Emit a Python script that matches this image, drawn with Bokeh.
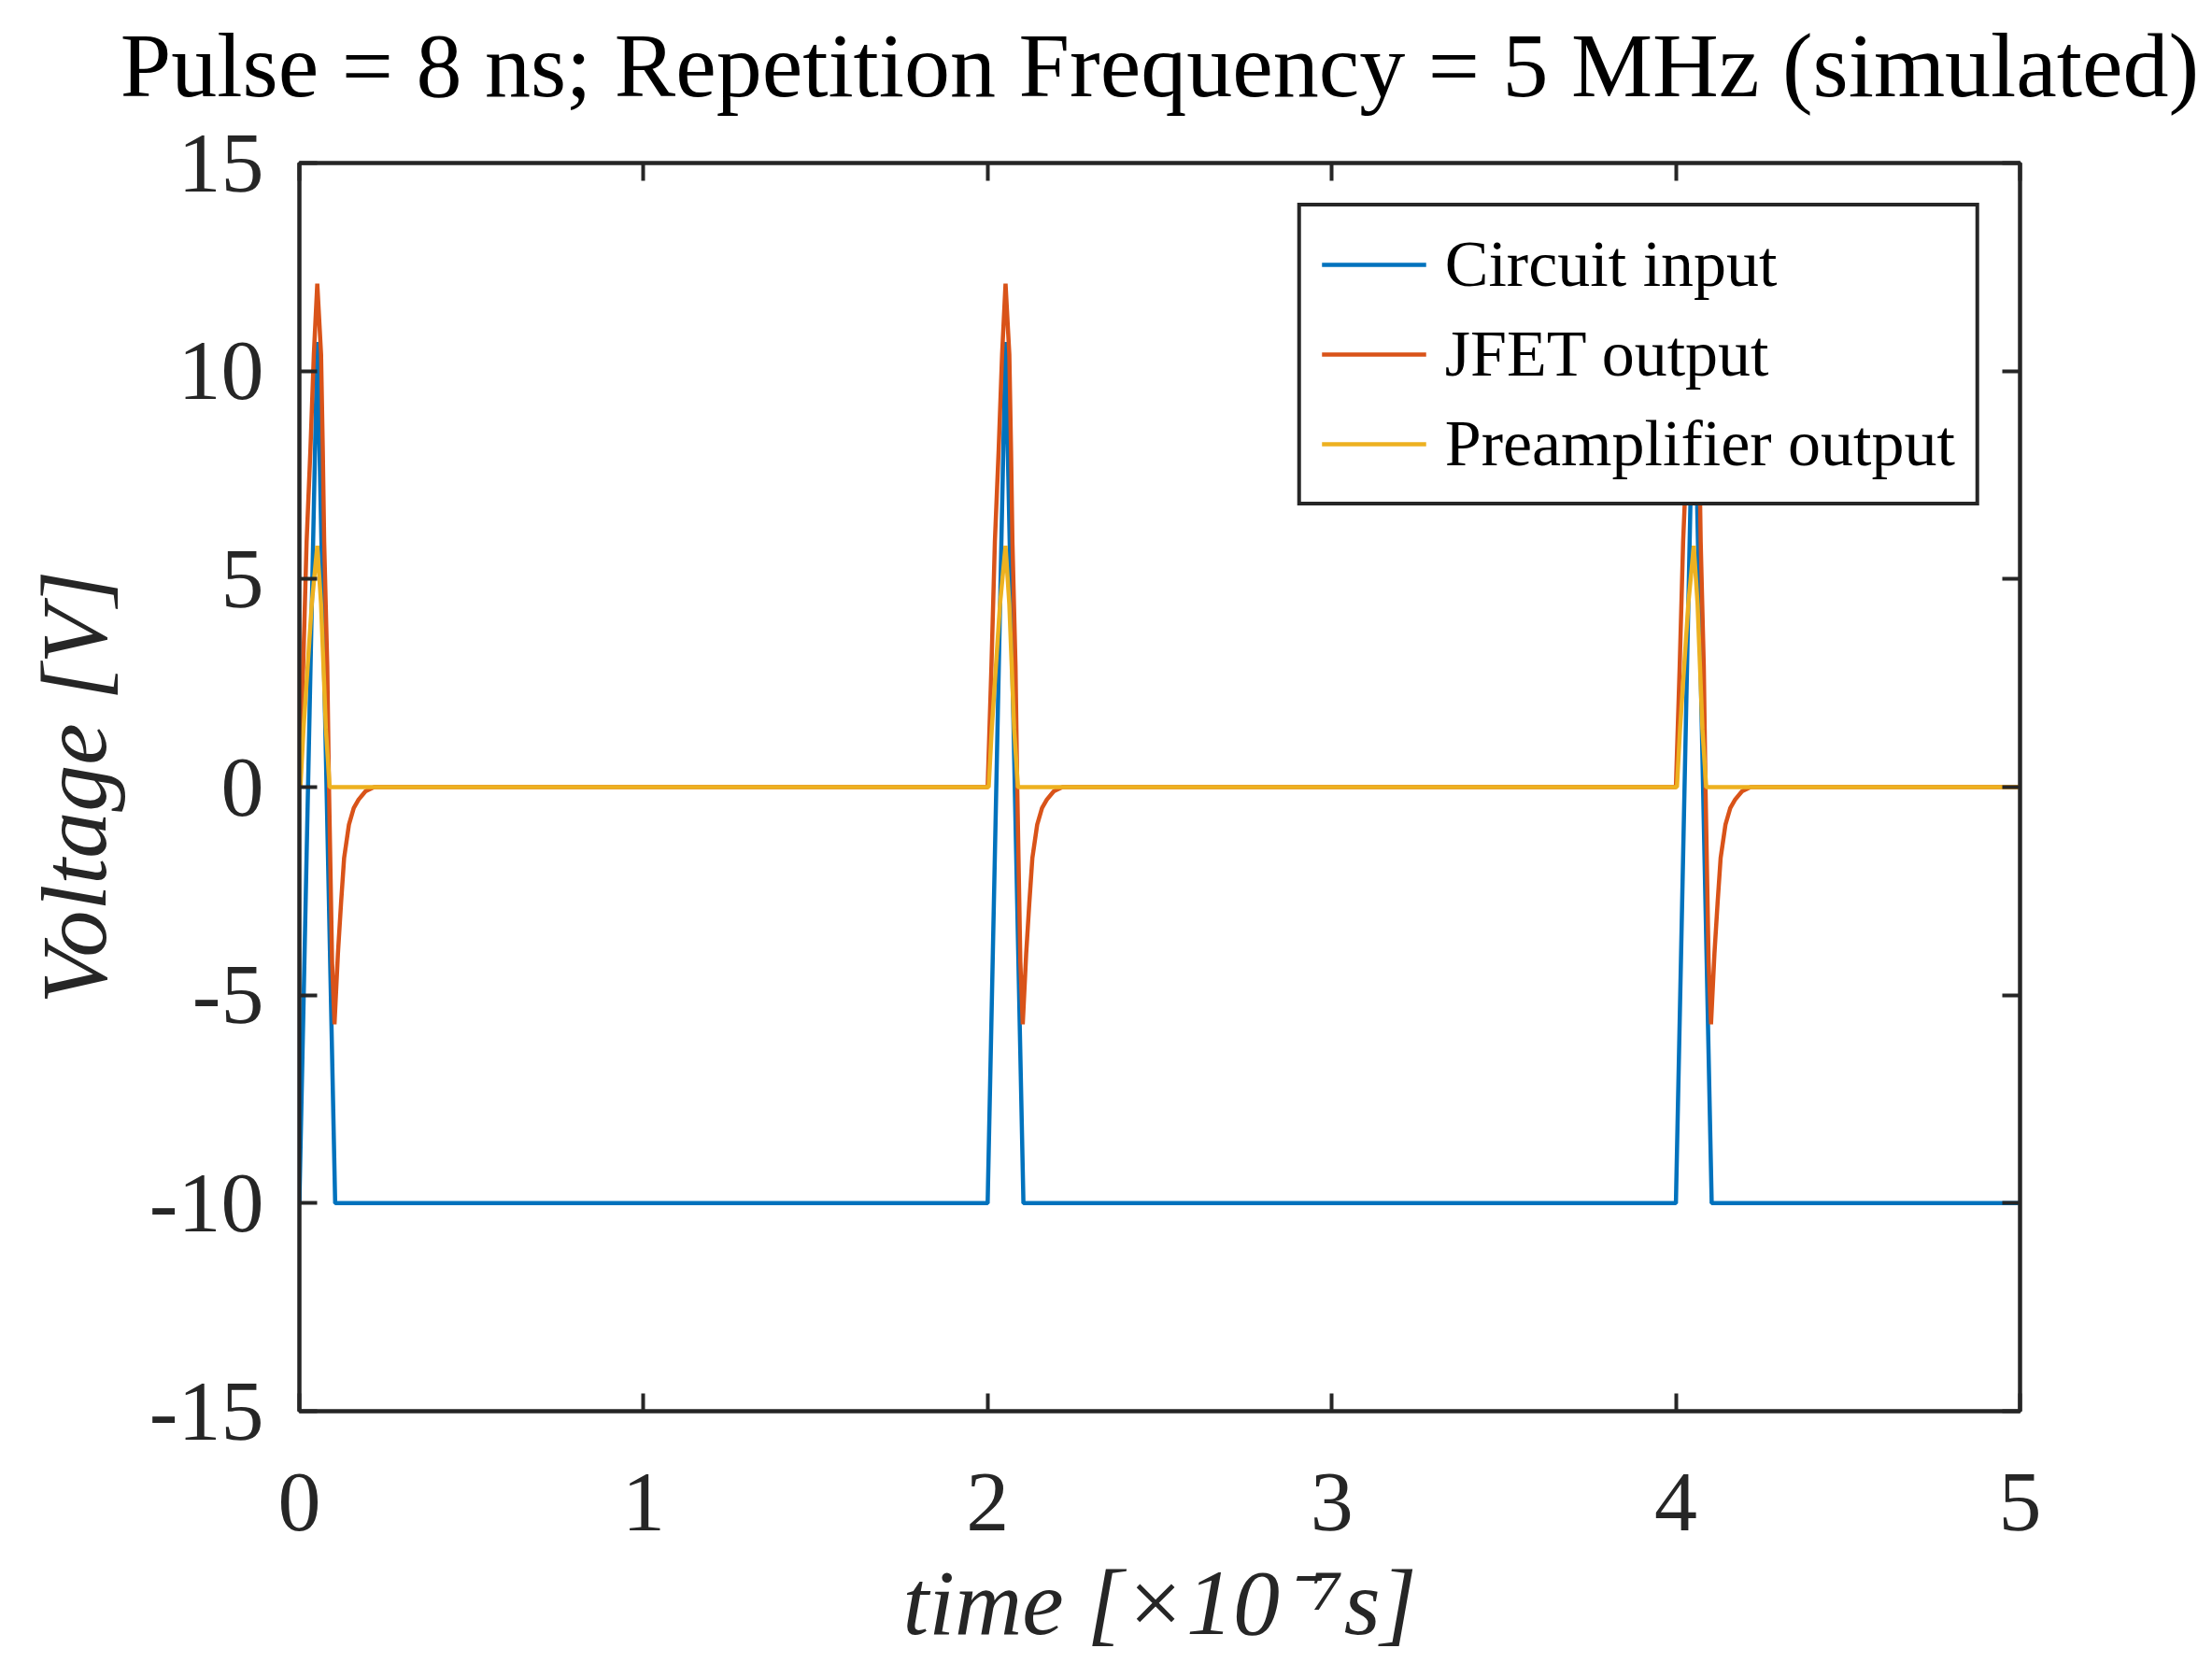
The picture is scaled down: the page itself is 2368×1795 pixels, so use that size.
from bokeh.plotting import figure
from bokeh.models import LinearAxis, FixedTicker, Range1d
from bokeh.embed import file_html
from bokeh.resources import INLINE

# ---- data (time in units of 1e-7 s, voltage in V) ----
t_input = [0.000, 0.052, 0.104,
           2.000, 2.052, 2.104,
           4.000, 4.052, 4.104,
           5.000]
v_input = [-10.0, 10.7, -10.0,
           -10.0, 10.7, -10.0,
           -10.0, 10.7, -10.0,
           -10.0]

t_jfet = [0.000, 0.011, 0.021, 0.032, 0.042, 0.052, 0.063, 0.068, 0.072, 0.081,
          0.086, 0.095, 0.102, 0.112, 0.121, 0.130, 0.144, 0.158, 0.172, 0.192, 0.217,
          2.000, 2.011, 2.021, 2.032, 2.042, 2.052, 2.063, 2.068, 2.072, 2.081,
          2.086, 2.095, 2.102, 2.112, 2.121, 2.130, 2.144, 2.158, 2.172, 2.192, 2.217,
          4.000, 4.011, 4.021, 4.032, 4.042, 4.052, 4.063, 4.068, 4.072, 4.081,
          4.086, 4.095, 4.102, 4.112, 4.121, 4.130, 4.144, 4.158, 4.172, 4.192, 4.217,
          5.000]
v_jfet = [0.0, 2.9, 5.9, 8.1, 10.4, 12.1, 10.4, 8.1, 5.9, 2.9,
          0.0, -4.2, -5.7, -4.0, -2.8, -1.7, -0.9, -0.5, -0.3, -0.1, 0.0,
          0.0, 2.9, 5.9, 8.1, 10.4, 12.1, 10.4, 8.1, 5.9, 2.9,
          0.0, -4.2, -5.7, -4.0, -2.8, -1.7, -0.9, -0.5, -0.3, -0.1, 0.0,
          0.0, 2.9, 5.9, 8.1, 10.4, 12.1, 10.4, 8.1, 5.9, 2.9,
          0.0, -4.2, -5.7, -4.0, -2.8, -1.7, -0.9, -0.5, -0.3, -0.1, 0.0,
          0.0]

t_preamp = [0.000, 0.003, 0.012, 0.024, 0.036, 0.052, 0.063, 0.070, 0.077, 0.088,
            2.000, 2.003, 2.012, 2.024, 2.036, 2.052, 2.063, 2.070, 2.077, 2.088,
            4.000, 4.003, 4.012, 4.024, 4.036, 4.052, 4.063, 4.070, 4.077, 4.088,
            5.000]
v_preamp = [0.0, 0.0, 1.4, 2.9, 4.4, 5.8, 4.4, 2.9, 1.4, 0.0,
            0.0, 0.0, 1.4, 2.9, 4.4, 5.8, 4.4, 2.9, 1.4, 0.0,
            0.0, 0.0, 1.4, 2.9, 4.4, 5.8, 4.4, 2.9, 1.4, 0.0,
            0.0]

series_names = ["Circuit input", "JFET output", "Preamplifier output"]
series_colors = ["#0072BD", "#D95319", "#EDB120"]

x_ticks = [0, 1, 2, 3, 4, 5]
x_tick_labels = ["0", "1", "2", "3", "4", "5"]
y_ticks = [-15, -10, -5, 0, 5, 10, 15]
y_tick_labels = ["-15", "-10", "-5", "0", "5", "10", "15"]

title_text = "Pulse = 8 ns; Repetition Frequency = 5 MHz (simulated)"
x_label = "time [\u00d710\u207b\u2077s]"
y_label = "Voltage [V]"

FONT = "Liberation Serif"
INK = "#262626"

SHIFT = 40  # figure is pulled up by this many px so the title can sit high

p = figure(frame_width=1842, frame_height=1336,
           min_border_left=320, min_border_right=198,
           min_border_top=174 + SHIFT, min_border_bottom=269,
           x_range=Range1d(0, 5), y_range=Range1d(-15, 15),
           output_backend="svg", toolbar_location=None,
           background_fill_color="white", border_fill_color="white",
           margin=(-SHIFT, 0, 0, 0))

p.xgrid.visible = False
p.ygrid.visible = False
p.outline_line_color = INK
p.outline_line_width = 4
p.outline_line_alpha = 1.0

p.title.text = title_text
p.title.align = "center"
p.title.vertical_align = "top"
p.title.text_font = FONT
p.title.text_font_size = "98px"
p.title.text_font_style = "normal"
p.title.text_color = "black"
p.title.standoff = 97

for xs, ys, name, col in zip([t_input, t_jfet, t_preamp],
                             [v_input, v_jfet, v_preamp],
                             series_names, series_colors):
    p.line(xs, ys, line_color=col, line_width=4.5, legend_label=name)

def style_axis(ax, ticks, labels, show_labels):
    ax.ticker = FixedTicker(ticks=ticks)
    ax.major_label_overrides = {t: (l if show_labels else "") for t, l in zip(ticks, labels)}
    ax.axis_line_color = INK
    ax.axis_line_width = 4
    ax.major_tick_line_color = INK
    ax.major_tick_line_width = 4
    ax.major_tick_in = 19
    ax.major_tick_out = 0
    ax.minor_tick_line_color = None
    ax.major_label_text_font = FONT
    ax.major_label_text_font_size = "92px" if show_labels else "1px"
    ax.major_label_text_color = INK

xa = p.xaxis[0]
ya = p.yaxis[0]
style_axis(xa, x_ticks, x_tick_labels, True)
style_axis(ya, y_ticks, y_tick_labels, True)
xa.major_label_standoff = 67
ya.major_label_standoff = 38

xa.axis_label = x_label
xa.axis_label_text_font = FONT
xa.axis_label_text_font_size = "100px"
xa.axis_label_text_font_style = "italic"
xa.axis_label_text_color = INK
xa.axis_label_standoff = 19

ya.axis_label = y_label
ya.axis_label_text_font = FONT
ya.axis_label_text_font_size = "100px"
ya.axis_label_text_font_style = "italic"
ya.axis_label_text_color = INK
ya.axis_label_standoff = 22

top_ax = LinearAxis()
style_axis(top_ax, x_ticks, x_tick_labels, False)
top_ax.major_label_standoff = 0
p.add_layout(top_ax, "above")

right_ax = LinearAxis()
style_axis(right_ax, y_ticks, y_tick_labels, False)
right_ax.major_label_standoff = 0
p.add_layout(right_ax, "right")

lg = p.legend[0]
lg.location = "top_right"
lg.margin = 43
lg.border_line_color = INK
lg.border_line_width = 4
lg.border_line_alpha = 1.0
lg.background_fill_color = "white"
lg.background_fill_alpha = 1.0
lg.label_text_font = FONT
lg.label_text_font_size = "70px"
lg.label_text_color = "black"
lg.glyph_width = 112
lg.glyph_height = 76
lg.label_height = 76
lg.spacing = 16
lg.padding = 22
lg.label_standoff = 20

open("out.html", "w").write(file_html(p, INLINE))
